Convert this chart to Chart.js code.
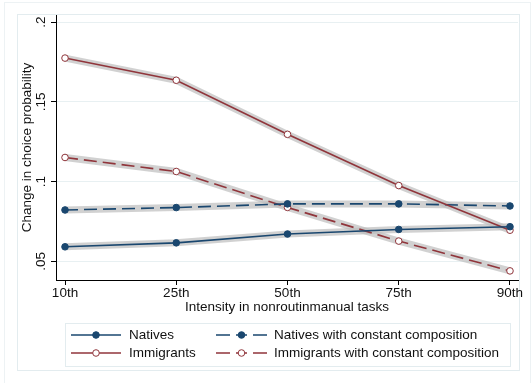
<!DOCTYPE html>
<html>
<head>
<meta charset="utf-8">
<script src="https://cdn.jsdelivr.net/npm/chart.js@4"></script>
<style>
  html, body { margin: 0; padding: 0; background: #fff; }
  #wrap { width: 531px; height: 383px; }
</style>
</head>
<body>
<div id="wrap"><canvas id="chart" width="531" height="383"></canvas></div>
<script>
// values
const xLabels = ['10th', '25th', '50th', '75th', '90th'];
const yTicks = [0.05, 0.1, 0.15, 0.2];
const yTickLabels = ['.05', '.1', '.15', '.2'];

const natives = [0.0591, 0.0616, 0.0671, 0.0700, 0.0717];
const immigrants = [0.1774, 0.1635, 0.1296, 0.0975, 0.0695];
const nativesConst = [0.0822, 0.0837, 0.0860, 0.0860, 0.0847];
const immigrantsConst = [0.1151, 0.1063, 0.0838, 0.0627, 0.0440];

const seriesNames = ['Natives', 'Immigrants', 'Natives with constant composition', 'Immigrants with constant composition'];

const blue = '#1a476f';
const red = '#90353b';
const band = 'rgba(190,190,190,0.7)';
const font = '"Liberation Sans", Arial, sans-serif';
const fs = 13.5;

function pts(arr) {
  return arr.map((v, i) => ({ x: i, y: v }));
}

const lineStyles = [
  { data: natives, color: blue, dash: [], filled: true },
  { data: immigrants, color: red, dash: [], filled: false },
  { data: nativesConst, color: blue, dash: [13, 6], filled: true },
  { data: immigrantsConst, color: red, dash: [13, 6], filled: false }
];

const datasets = [];
// grey bands behind each line
lineStyles.forEach(s => {
  datasets.push({
    data: pts(s.data),
    borderColor: band,
    borderWidth: 7,
    pointRadius: 0,
    order: 10
  });
});
lineStyles.forEach((s, i) => {
  datasets.push({
    label: seriesNames[i],
    data: pts(s.data),
    borderColor: s.color,
    borderWidth: 1.6,
    borderDash: s.dash,
    pointRadius: 3.3,
    pointBorderWidth: 1,
    pointBorderColor: s.color,
    pointBackgroundColor: s.filled ? s.color : '#fff',
    order: 1
  });
});

// frames, y tick labels and legend
const extras = {
  id: 'extras',
  beforeDraw(chart) {
    const ctx = chart.ctx;
    ctx.save();
    ctx.fillStyle = '#fff';
    ctx.fillRect(0, 0, chart.width, chart.height);
    ctx.strokeStyle = '#edf2f4';
    ctx.lineWidth = 1;
    ctx.strokeRect(4.5, 2.5, 526, 381);
    ctx.strokeStyle = '#e3ecef';
    ctx.strokeRect(17.5, 14.5, 502, 356);
    ctx.restore();
  },
  afterDraw(chart) {
    const ctx = chart.ctx;
    const y = chart.scales.y;
    ctx.save();
    ctx.fillStyle = '#111';
    ctx.font = fs + 'px ' + font;
    ctx.textAlign = 'center';
    ctx.textBaseline = 'middle';
    yTicks.forEach((v, i) => {
      ctx.save();
      ctx.translate(41, y.getPixelForValue(v));
      ctx.rotate(-Math.PI / 2);
      ctx.fillText(yTickLabels[i], 0, 0);
      ctx.restore();
    });

    // legend
    ctx.strokeStyle = '#e3ecef';
    ctx.lineWidth = 1;
    ctx.strokeRect(65.5, 323.5, 445, 43);
    const cols = [{ x0: 71, x1: 121, tx: 129 }, { x0: 216, x1: 267, tx: 274 }];
    const rows = [335, 353];
    const order = [[0, 0, 0], [1, 0, 1], [2, 1, 0], [3, 1, 1]];
    order.forEach(([i, c, r]) => {
      const s = lineStyles[i];
      const col = cols[c];
      const yy = rows[r];
      ctx.strokeStyle = s.color;
      ctx.lineWidth = 1.6;
      ctx.beginPath();
      if (s.dash.length) {
        ctx.moveTo(col.x0, yy); ctx.lineTo(col.x0 + 14, yy);
        ctx.moveTo(col.x0 + 20, yy); ctx.lineTo(col.x0 + 31, yy);
        ctx.moveTo(col.x0 + 37, yy); ctx.lineTo(col.x1, yy);
      } else {
        ctx.moveTo(col.x0, yy); ctx.lineTo(col.x1, yy);
      }
      ctx.stroke();
      const mx = (col.x0 + col.x1) / 2;
      ctx.beginPath();
      ctx.arc(mx, yy, 3.3, 0, Math.PI * 2);
      ctx.fillStyle = s.filled ? s.color : '#fff';
      ctx.fill();
      ctx.lineWidth = 1;
      ctx.stroke();
      ctx.fillStyle = '#111';
      ctx.textAlign = 'left';
      ctx.fillText(seriesNames[i], col.tx, yy + 0.5);
    });
    ctx.restore();
  }
};

new Chart(document.getElementById('chart'), {
  type: 'line',
  data: { datasets: datasets },
  plugins: [extras],
  options: {
    responsive: false,
    animation: false,
    layout: { padding: { top: 15, right: 13, bottom: 67, left: 0 } },
    plugins: { legend: { display: false }, tooltip: { enabled: false } },
    elements: { line: { tension: 0, borderCapStyle: 'butt' } },
    scales: {
      x: {
        type: 'linear',
        min: -0.081,
        max: 4.072,
        afterBuildTicks: s => { s.ticks = xLabels.map((_, i) => ({ value: i })); },
        afterFit: s => { s.height = 36; },
        border: { display: true, color: '#000', width: 1 },
        grid: { drawOnChartArea: false, drawTicks: true, tickLength: 5, tickColor: '#000' },
        ticks: {
          autoSkip: false,
          maxRotation: 0,
          padding: 0,
          color: '#111',
          font: { family: font, size: fs },
          callback: v => xLabels[v]
        },
        title: {
          display: true,
          text: 'Intensity in nonroutinmanual tasks',
          color: '#111',
          font: { family: font, size: fs },
          padding: { top: 0, bottom: 1 }
        }
      },
      y: {
        min: 0.0383,
        max: 0.2044,
        afterBuildTicks: s => { s.ticks = yTicks.map(v => ({ value: v })); },
        afterFit: s => { s.width = 56; },
        border: { display: true, color: '#000', width: 1 },
        grid: { color: '#e8f0f2', lineWidth: 1, drawTicks: true, tickLength: 5, tickColor: '#000' },
        ticks: { color: 'rgba(0,0,0,0)', font: { family: font, size: fs }, callback: (v, i) => yTickLabels[i] },
        title: {
          display: true,
          text: 'Change in choice probability',
          color: '#111',
          font: { family: font, size: fs },
          padding: { top: 19, bottom: 0 }
        }
      }
    }
  }
});
</script>
</body>
</html>
